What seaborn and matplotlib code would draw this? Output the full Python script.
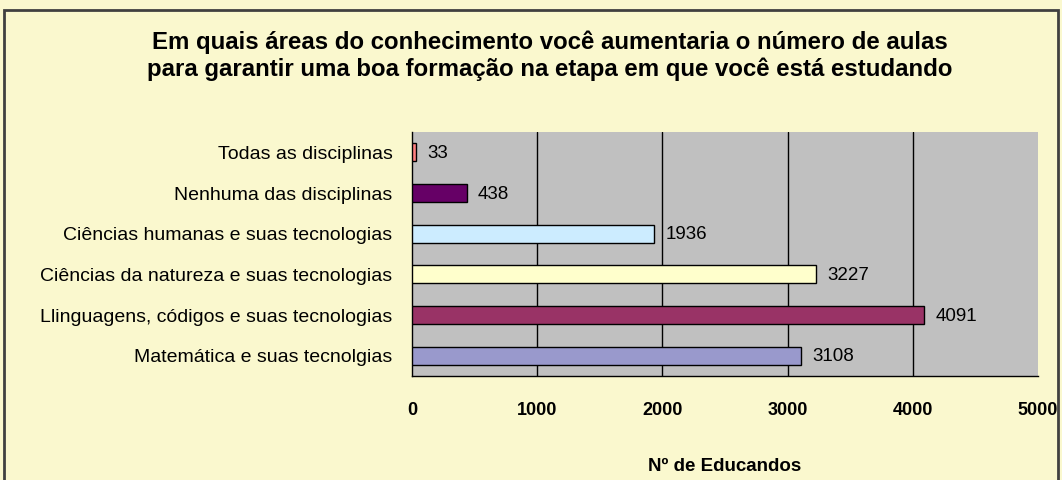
import matplotlib
matplotlib.use("Agg")
import matplotlib.pyplot as plt
import seaborn as sns
import pandas as pd
from matplotlib.patches import Rectangle
from matplotlib.ticker import FixedLocator

categories = [
    "Todas as disciplinas",
    "Nenhuma das disciplinas",
    "Ciências humanas e suas tecnologias",
    "Ciências da natureza e suas tecnologias",
    "Llinguagens, códigos e suas tecnologias",
    "Matemática e suas tecnolgias",
]
values = [33, 438, 1936, 3227, 4091, 3108]
colors = ["#FF8080", "#660066", "#CCECFF", "#FFFFCC", "#993366", "#9999CC"]
xticks = [0, 1000, 2000, 3000, 4000, 5000]

title = ("Em quais áreas do conhecimento você aumentaria o número de aulas\n"
         "para garantir uma boa formação na etapa em que você está estudando")
xlabel = "Nº de Educandos"

sns.set_style("white")
plt.rcParams["font.family"] = ["Liberation Sans", "DejaVu Sans"]
plt.rcParams["text.color"] = "black"
plt.rcParams["xtick.color"] = "black"
plt.rcParams["ytick.color"] = "black"
plt.rcParams["axes.labelcolor"] = "black"

bg = "#FAF8CE"
fig = plt.figure(figsize=(10.62, 4.8), dpi=100, facecolor=bg)
ax = fig.add_axes([412 / 1062, 1 - 376 / 480, (1038 - 412) / 1062, (376 - 132) / 480])
ax.set_facecolor("#C0C0C0")

df = pd.DataFrame({"cat": categories, "val": values})
sns.barplot(data=df, x="val", y="cat", hue="cat", palette=colors, order=categories,
            hue_order=categories, orient="h", width=0.45, edgecolor="black",
            linewidth=1.0, saturation=1, legend=False, ax=ax, zorder=3)

ax.set_xlim(0, 5000)
ax.set_ylim(len(categories) - 0.5, -0.5)
ax.set_xticks(xticks)
ax.set_xticklabels([str(t) for t in xticks], fontsize=13, fontweight="bold")
ax.tick_params(axis="x", direction="out", length=5, width=1, color="black", pad=14)
ax.tick_params(axis="y", which="major", length=0, pad=14)
ax.yaxis.set_minor_locator(FixedLocator([i - 0.5 for i in range(len(categories) + 1)]))
ax.tick_params(axis="y", which="minor", direction="out", length=5, width=1, color="black")
for lbl in ax.get_yticklabels():
    lbl.set_fontsize(14)
ax.set_ylabel("")
ax.set_xlabel(xlabel, fontsize=13.5, fontweight="bold", labelpad=28)

for x in xticks[1:-1]:
    ax.axvline(x, color="black", linewidth=1, zorder=1)

for i, v in enumerate(values):
    ax.text(v + 90, i + 0.03, str(v), va="center", ha="left", fontsize=13.5, zorder=4)

for s in ["top", "right"]:
    ax.spines[s].set_visible(False)
for s in ["left", "bottom"]:
    ax.spines[s].set_color("black")
    ax.spines[s].set_linewidth(1)

fig.text(0.518, 1 - 56 / 480, title, ha="center", va="center", fontsize=17.3,
         fontweight="bold", linespacing=1.18)

fig.patches.append(Rectangle((4 / 1062, -0.1), (1058 - 4) / 1062, 1.1 - 10 / 480,
                             transform=fig.transFigure, fill=False,
                             edgecolor="#404040", linewidth=2))

fig.savefig("out.png", dpi=100, facecolor=bg)
